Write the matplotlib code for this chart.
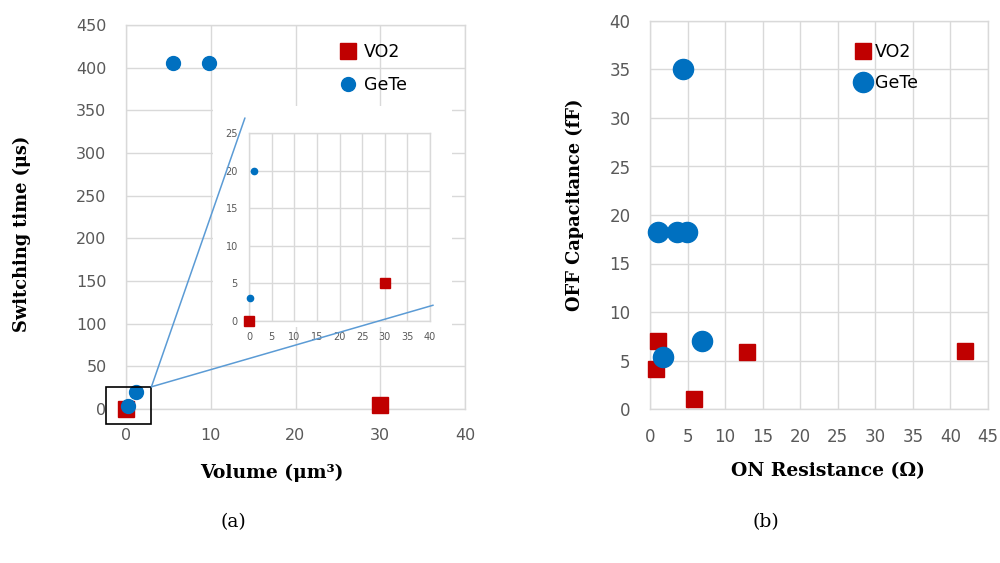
import matplotlib.pyplot as plt
from matplotlib.patches import Rectangle, ConnectionPatch

# ---- data ----
# (a) volume vs switching time
vol_vo2 = [0.0, 30.0]
ts_vo2 = [0.0, 5.0]
vol_gete = [0.2, 1.2, 5.5, 9.8]
ts_gete = [3.0, 20.0, 406.0, 406.0]

# (b) ON resistance vs OFF capacitance
ron_vo2 = [1.0, 0.8, 5.9, 12.9, 41.9]
coff_vo2 = [7.05, 4.1, 1.0, 5.85, 6.0]
ron_gete = [4.4, 1.05, 3.6, 4.9, 1.7, 6.95]
coff_gete = [35.1, 18.25, 18.25, 18.25, 5.4, 7.05]

RED = '#C00000'
BLUE = '#0070C0'
GRID = '#D9D9D9'
TICK = '#595959'
W, H = 1000, 563


def px(l, t, r, b):
    """pixel box -> figure fraction rect"""
    return [l / W, (H - b) / H, (r - l) / W, (b - t) / H]


def style(ax, xt, yt, fs, pad):
    ax.set_xticks(xt)
    ax.set_yticks(yt)
    ax.set_xlim(xt[0], xt[-1])
    ax.set_ylim(yt[0], yt[-1])
    ax.grid(True, color=GRID, linewidth=1)
    ax.set_axisbelow(True)
    ax.tick_params(length=0, labelsize=fs, labelcolor=TICK, pad=pad)
    for s in ax.spines.values():
        s.set_color(GRID)
        s.set_linewidth(1)


fig = plt.figure(figsize=(10, 5.63), dpi=100)
serif = ['DejaVu Serif']

# ---------- panel (a) ----------
ax1 = fig.add_axes(px(126, 25, 465, 409))
style(ax1, [0, 10, 20, 30, 40], list(range(0, 451, 50)), 11.5, 14)
ax1.plot(vol_vo2, ts_vo2, 's', color=RED, markersize=11, label='VO2', clip_on=False, zorder=3)
ax1.plot(vol_gete, ts_gete, 'o', color=BLUE, markersize=10, label='GeTe', clip_on=False, zorder=4)
ax1.legend(loc='upper left', bbox_to_anchor=(0.6, 0.975), frameon=False, fontsize=12.5,
           handletextpad=0.3, labelspacing=0.85, borderpad=0, handlelength=1.2)

# zoom box around origin
ax1.add_patch(Rectangle((-2.4, -17.5), 5.4, 43.5, fill=False, edgecolor='black',
                        linewidth=1.2, clip_on=False, zorder=5))

# white area behind inset
bg = fig.add_axes(px(213, 106, 452, 327))
bg.set_facecolor('white')
bg.set_xticks([])
bg.set_yticks([])
for s in bg.spines.values():
    s.set_visible(False)

axi = fig.add_axes(px(249, 133, 430, 321))
style(axi, list(range(0, 41, 5)), list(range(0, 26, 5)), 7, 8)
axi.plot(vol_vo2, ts_vo2, 's', color=RED, markersize=6.5, clip_on=False, zorder=3)
axi.plot(vol_gete[:2], ts_gete[:2], 'o', color=BLUE, markersize=4.5, clip_on=False, zorder=4)

for xyb in [(-0.9, 27.0), (40.7, 2.1)]:
    con = ConnectionPatch(xyA=(3.0, 26.0), coordsA=ax1.transData,
                          xyB=xyb, coordsB=axi.transData,
                          color='#5B9BD5', linewidth=1.1)
    fig.add_artist(con)

fig.text(22 / W, 1 - 234 / H, 'Switching time (μs)', rotation=90, ha='center', va='center',
         fontsize=12.8, fontweight='bold', family=serif)
fig.text(272 / W, 1 - 473 / H, 'Volume (μm³)', ha='center', va='center',
         fontsize=13.5, fontweight='bold', family=serif)
fig.text(233 / W, 1 - 522 / H, '(a)', ha='center', va='center', fontsize=13.5, family=serif)

# ---------- panel (b) ----------
ax2 = fig.add_axes(px(650, 21, 988, 409))
style(ax2, list(range(0, 46, 5)), list(range(0, 41, 5)), 12, 14)
ax2.plot(ron_vo2, coff_vo2, 's', color=RED, markersize=12, label='VO2', clip_on=False, zorder=3)
ax2.plot(ron_gete, coff_gete, 'o', color=BLUE, markersize=14.5, label='GeTe', clip_on=False, zorder=4)
ax2.legend(loc='upper left', bbox_to_anchor=(0.573, 0.965), frameon=False, fontsize=12.5,
           handletextpad=0.1, labelspacing=0.75, borderpad=0, handlelength=1.2)

fig.text(575 / W, 1 - 205 / H, 'OFF Capacitance (fF)', rotation=90, ha='center', va='center',
         fontsize=12.8, fontweight='bold', family=serif)
fig.text(828 / W, 1 - 471 / H, 'ON Resistance (Ω)', ha='center', va='center',
         fontsize=13.5, fontweight='bold', family=serif)
fig.text(766 / W, 1 - 522 / H, '(b)', ha='center', va='center', fontsize=13.5, family=serif)

fig.savefig('out.png', dpi=100, facecolor='white')
